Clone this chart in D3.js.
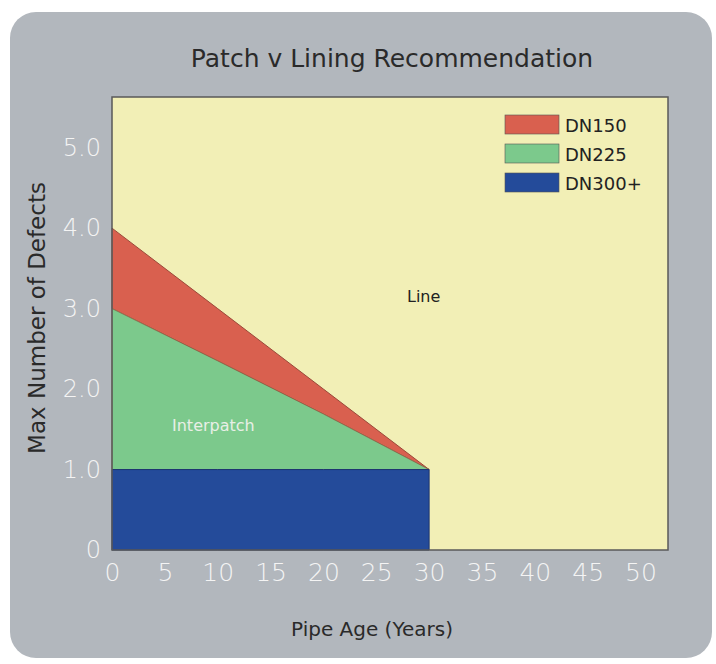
<!DOCTYPE html>
<html>
<head>
<meta charset="utf-8">
<script src="https://cdn.jsdelivr.net/npm/d3@7"></script>
<style>
  body { margin: 0; background: #fff; }
  text { font-family: "DejaVu Sans", sans-serif; }
</style>
</head>
<body>
<div id="chart"></div>
<script>
// data
const years = [0, 10, 20, 30];
const dn150 = [4.0, 3.0, 2.0, 1.0];
const dn225 = [3.0, 2.35, 1.69, 1.0];
const dn300 = [1.0, 1.0, 1.0, 1.0];
const xTicks = [0, 5, 10, 15, 20, 25, 30, 35, 40, 45, 50];
const yTicks = [0, 1, 2, 3, 4, 5];
const legendNames = ['DN150', 'DN225', 'DN300+'];
const colors = ['#d9604f', '#7cc98c', '#244b9a'];

const width = 716, height = 664;
const margin = { top: 97, right: 48, bottom: 114, left: 112 };

const svg = d3.select('#chart').append('svg')
  .attr('width', width)
  .attr('height', height);

// grey panel
svg.append('rect')
  .attr('x', 10).attr('y', 12)
  .attr('width', 702).attr('height', 646)
  .attr('rx', 26)
  .attr('fill', '#b2b7bd');

const x = d3.scaleLinear()
  .domain([0, 52.6])
  .range([margin.left, width - margin.right]);

const y = d3.scaleLinear()
  .domain([0, 5.63])
  .range([height - margin.bottom, margin.top]);

// plot background
svg.append('rect')
  .attr('x', x(0)).attr('y', y(5.63))
  .attr('width', x(52.6) - x(0)).attr('height', y(0) - y(5.63))
  .attr('fill', '#f2efb6');

const rows = years.map((d, i) => ({ yr: d, red: dn150[i], green: dn225[i], blue: dn300[i] }));

const area = (lo, hi) => d3.area()
  .x(d => x(d.yr))
  .y0(d => y(lo(d)))
  .y1(d => y(hi(d)));

svg.append('path').datum(rows)
  .attr('d', area(d => d.green, d => d.red))
  .attr('fill', colors[0])
  .attr('stroke', '#9a4a3a').attr('stroke-width', 1);

svg.append('path').datum(rows)
  .attr('d', area(d => d.blue, d => d.green))
  .attr('fill', colors[1])
  .attr('stroke', '#8a6a4a').attr('stroke-width', 0.8);

svg.append('path').datum(rows)
  .attr('d', area(d => 0, d => d.blue))
  .attr('fill', colors[2])
  .attr('stroke', '#1c3570').attr('stroke-width', 1);

// plot frame
svg.append('rect')
  .attr('x', x(0)).attr('y', y(5.63))
  .attr('width', x(52.6) - x(0)).attr('height', y(0) - y(5.63))
  .attr('fill', 'none')
  .attr('stroke', '#5a5a5a').attr('stroke-width', 1.5);

// axes
const xAxis = svg.append('g')
  .attr('transform', `translate(0,${y(0)})`)
  .call(d3.axisBottom(x).tickValues(xTicks).tickSize(0).tickPadding(13));
xAxis.select('.domain').remove();
xAxis.selectAll('text')
  .attr('font-family', 'Lato, sans-serif')
  .attr('fill', '#f4f4f4')
  .attr('font-size', 25)
  .attr('font-weight', 300);

const yAxis = svg.append('g')
  .attr('transform', `translate(${x(0)},0)`)
  .call(d3.axisLeft(y).tickValues(yTicks).tickSize(0).tickPadding(11)
    .tickFormat(d => d === 0 ? '0' : d3.format('.1f')(d)));
yAxis.select('.domain').remove();
yAxis.selectAll('text')
  .attr('font-family', 'Lato, sans-serif')
  .attr('fill', '#f4f4f4')
  .attr('font-size', 24)
  .attr('font-weight', 300);

// titles
svg.append('text')
  .attr('x', 392).attr('y', 67)
  .attr('text-anchor', 'middle')
  .attr('font-size', 25)
  .attr('fill', '#2a2a2a')
  .text('Patch v Lining Recommendation');

svg.append('text')
  .attr('x', 372).attr('y', 636)
  .attr('text-anchor', 'middle')
  .attr('font-size', 20)
  .attr('fill', '#2a2a2a')
  .text('Pipe Age (Years)');

svg.append('text')
  .attr('transform', 'translate(45,318) rotate(-90)')
  .attr('text-anchor', 'middle')
  .attr('font-size', 23)
  .attr('fill', '#2a2a2a')
  .text('Max Number of Defects');

// region labels
svg.append('text')
  .attr('x', 407).attr('y', y(3.08))
  .attr('font-size', 16)
  .attr('fill', '#222')
  .text('Line');

svg.append('text')
  .attr('x', 172).attr('y', y(1.48))
  .attr('font-size', 16)
  .attr('fill', '#e8efe6')
  .text('Interpatch');

// legend
const legend = svg.append('g').attr('transform', 'translate(505,115)');
legendNames.forEach((name, i) => {
  const g = legend.append('g').attr('transform', `translate(0,${i * 29})`);
  g.append('rect')
    .attr('width', 54).attr('height', 19)
    .attr('fill', colors[i])
    .attr('stroke', '#555').attr('stroke-width', 0.6);
  g.append('text')
    .attr('x', 60).attr('y', 17)
    .attr('font-size', 18)
    .attr('fill', '#222')
    .text(name);
});
</script>
</body>
</html>
